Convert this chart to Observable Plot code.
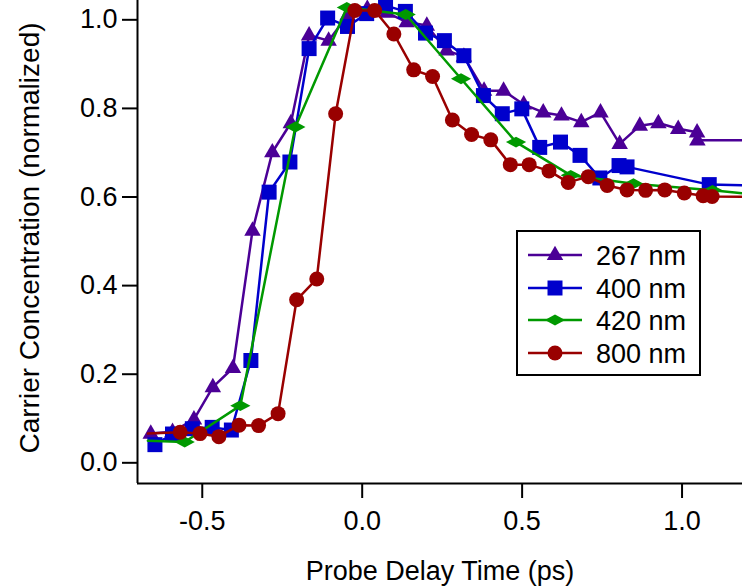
<!DOCTYPE html>
<html>
<head>
<meta charset="utf-8">
<script src="https://cdn.jsdelivr.net/npm/d3@7"></script>
<script src="https://cdn.jsdelivr.net/npm/@observablehq/plot@0.6"></script>
<style>
  html, body { margin: 0; padding: 0; background: #fff; }
  svg { display: block; }
</style>
</head>
<body>
<div id="chart"></div>
<script>
// ---- data ----
const seriesNames = ["267 nm", "400 nm", "420 nm", "800 nm"];
const seriesColors = ["#4b0096", "#0000cc", "#009900", "#990000"];

const x267 = [-0.661,-0.593,-0.526,-0.467,-0.404,-0.343,-0.281,-0.223,-0.166,-0.105,-0.046,0.016,0.077,0.139,0.202,0.264,0.318,0.381,0.442,0.505,0.566,0.623,0.685,0.745,0.805,0.868,0.926,0.988,1.047,1.048,1.25];
const y267 = [0.066,0.070,0.098,0.171,0.214,0.524,0.701,0.767,0.965,0.953,1.010,1.025,1.016,0.995,0.987,0.931,0.917,0.840,0.840,0.809,0.791,0.784,0.769,0.791,0.720,0.761,0.767,0.754,0.746,0.728,0.728];

const x400 = [-0.648,-0.593,-0.531,-0.469,-0.409,-0.348,-0.291,-0.226,-0.166,-0.108,-0.046,0.014,0.073,0.135,0.198,0.257,0.318,0.379,0.438,0.499,0.555,0.620,0.681,0.743,0.803,0.828,1.085,1.25];
const y400 = [0.041,0.065,0.077,0.080,0.074,0.231,0.611,0.679,0.935,1.004,0.985,1.014,1.032,1.019,0.970,0.953,0.919,0.829,0.788,0.799,0.712,0.724,0.694,0.643,0.671,0.668,0.628,0.626];

const lead420 = { x: -0.670, y: 0.050 };
const x420 = [-0.555,-0.381,-0.209,-0.048,0.136,0.309,0.481,0.652,0.848,1.095,1.25];
const y420 = [0.047,0.129,0.758,1.028,1.012,0.867,0.724,0.649,0.630,0.615,0.604];

const lead800 = { x: -0.670, y: 0.066 };
const x800 = [-0.569,-0.507,-0.448,-0.385,-0.324,-0.263,-0.205,-0.142,-0.083,-0.023,0.039,0.099,0.161,0.220,0.282,0.342,0.402,0.463,0.522,0.584,0.644,0.707,0.766,0.828,0.886,0.946,1.007,1.066,1.094,1.25];
const y800 = [0.069,0.066,0.059,0.085,0.084,0.111,0.368,0.415,0.788,1.021,1.021,0.968,0.887,0.872,0.774,0.741,0.729,0.673,0.673,0.659,0.633,0.646,0.626,0.616,0.615,0.616,0.609,0.603,0.601,0.600];

const xTicks = [-0.5, 0.0, 0.5, 1.0];
const yTicks = [0.0, 0.2, 0.4, 0.6, 0.8, 1.0];
const xLabel = "Probe Delay Time (ps)";
const yLabel = "Carrier Concentration (normalized)";

// ---- marker shapes ----
const symTriangle = { draw(c, s) { const r = Math.sqrt(s / Math.PI); c.moveTo(0, -1.25 * r); c.lineTo(1.1 * r, 0.68 * r); c.lineTo(-1.1 * r, 0.68 * r); c.closePath(); } };
const symSquare = { draw(c, s) { const r = Math.sqrt(s / Math.PI); c.moveTo(-r, -r); c.lineTo(r, -r); c.lineTo(r, r); c.lineTo(-r, r); c.closePath(); } };
const symDiamond = { draw(c, s) { const r = Math.sqrt(s / Math.PI); const w = 1.35 * r, h = 0.72 * r; c.moveTo(-w, 0); c.lineTo(0, -h); c.lineTo(w, 0); c.lineTo(0, h); c.closePath(); } };
const symCircle = { draw(c, s) { const r = Math.sqrt(s / Math.PI); c.moveTo(r, 0); c.arc(0, 0, r, 0, 2 * Math.PI); c.closePath(); } };
const symbols = [symTriangle, symSquare, symDiamond, symCircle];
const radii = [7.5, 7.5, 7.5, 7.5];

const toRows = (xs, ys) => xs.map((x, i) => ({ x, y: ys[i] }));
const pts = [toRows(x267, y267), toRows(x400, y400), toRows(x420, y420), toRows(x800, y800)];
const leads = [null, null, lead420, lead800];

const xDomain = [-0.7025, 1.189];
const yDomain = [-0.0467, 1.0436];

const marks = [];
pts.forEach((rows, i) => {
  const lineRows = leads[i] ? [leads[i], ...rows] : rows;
  marks.push(Plot.line(lineRows, { x: "x", y: "y", stroke: seriesColors[i], strokeWidth: 2.5, clip: true }));
  marks.push(Plot.dot(rows, { x: "x", y: "y", fill: seriesColors[i], stroke: "none", symbol: symbols[i], r: radii[i], clip: true }));
});

const plot = Plot.plot({
  width: 742,
  height: 587,
  marginLeft: 137,
  marginRight: 0,
  marginTop: 0,
  marginBottom: 104,
  x: { domain: xDomain },
  y: { domain: yDomain },
  style: { fontFamily: "'Liberation Sans', Arial, sans-serif", fontSize: "27px", color: "#000", background: "#fff", overflow: "visible" },
  marks: [
    Plot.axisX({ ticks: xTicks, tickFormat: d => d.toFixed(1), tickSize: 15, tickPadding: 12, strokeWidth: 2, label: null, fontSize: 27 }),
    Plot.axisY({ ticks: yTicks, tickFormat: d => d.toFixed(1), tickSize: 15, tickPadding: 5, strokeWidth: 2, label: null, fontSize: 27 }),
    ...marks,
    Plot.ruleX([xDomain[0]], { stroke: "#000", strokeWidth: 2 }),
    Plot.ruleY([yDomain[0]], { stroke: "#000", strokeWidth: 2 }),
    Plot.text([xLabel], { frameAnchor: "bottom", dy: 96, fontSize: 27, text: d => d }),
    Plot.text([yLabel], { frameAnchor: "left", dx: -107, dy: -4, rotate: -90, textAnchor: "middle", fontSize: 28, text: d => d })
  ]
});

// ---- legend (inside plot) ----
const svg = d3.select(plot);
const lg = svg.append("g").attr("font-family", "'Liberation Sans', Arial, sans-serif").style("font-size", "27px");
lg.append("rect").attr("x", 517).attr("y", 231).attr("width", 183).attr("height", 144)
  .attr("fill", "#fff").attr("stroke", "#000").attr("stroke-width", 2);
const rowY = [255, 288, 320, 353];
seriesNames.forEach((name, i) => {
  const y = rowY[i];
  lg.append("line").attr("x1", 528).attr("x2", 582).attr("y1", y).attr("y2", y)
    .attr("stroke", seriesColors[i]).attr("stroke-width", 2.5);
  lg.append("path").attr("d", d3.symbol(symbols[i], Math.PI * radii[i] * radii[i])())
    .attr("transform", `translate(555,${y})`).attr("fill", seriesColors[i]);
  lg.append("text").attr("x", 596).attr("y", y).attr("dy", "0.36em")
    .attr("text-anchor", "start").attr("fill", "#000").text(name);
});

document.getElementById("chart").appendChild(plot);
</script>
</body>
</html>
